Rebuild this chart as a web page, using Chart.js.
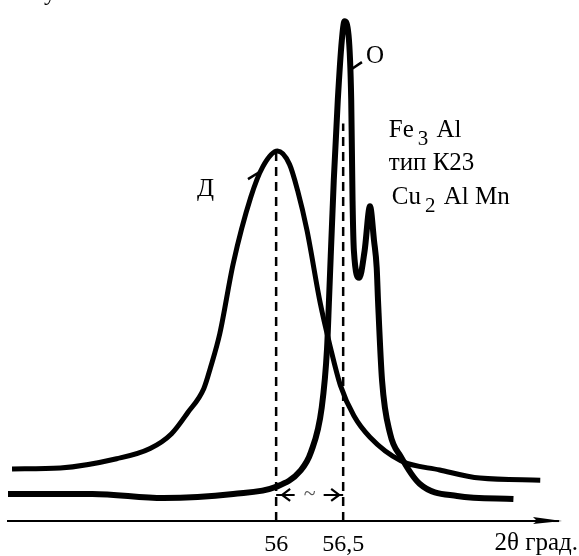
<!DOCTYPE html>
<html>
<head>
<meta charset="utf-8">
<script src="https://cdn.jsdelivr.net/npm/chart.js@4/dist/chart.umd.min.js"></script>
<style>
html,body{margin:0;padding:0;background:#fff;}
#wrap{width:579px;height:556px;}
</style>
</head>
<body>
<div id="wrap"><canvas id="c" width="579" height="556"></canvas></div>
<script>
// ---- data ----
const curveD_x = [54.03,54.39,54.81,55.06,55.22,55.34,55.46,55.51,55.58,55.68,55.81,55.90,56.01,56.10,56.16,56.23,56.33,56.40,56.48,56.58,56.70,56.93,57.22,57.52,57.97];
const curveD_y = [10.2,10.4,12.2,14.2,17.1,21.2,25.9,30.0,36.7,50.4,63.3,69.3,72.4,69.8,64.7,56.9,42.5,34.5,26.5,20.6,16.4,11.8,10.0,8.4,8.0];
const curveO_x = [54.00,54.63,55.16,55.68,56.00,56.18,56.26,56.34,56.38,56.395,56.43,56.46,56.49,56.51,56.54,56.56,56.57,56.58,56.62,56.66,56.70,56.73,56.75,56.76,56.79,56.85,56.93,57.07,57.35,57.77];
const curveO_y = [5.3,5.3,4.5,5.3,6.7,9.8,13.5,22.2,33.9,43.7,66.7,82.4,94.1,97.8,95.1,82.4,62.7,52.9,47.6,52.9,61.6,54.9,49.6,43.1,27.5,17.1,12.6,7.3,4.9,4.3];
const markerX = [56, 56.5];          // dashed guide positions
const markerTop = [72.4, 77.8];      // dashed guide heights
const gapY = 5.1;                     // level of the double arrow
const xTickValues = [56, 56.5];
const xTickLabels = ['56', '56,5'];
const axisTitle = '2θ град.';
const curveLabels = ['Д', 'О'];
const phaseLines = [['Fe', '3', ' Al'], ['тип К23'], ['Cu', '2', ' Al Mn']];

const pts = (xs, ys) => xs.map((x, i) => ({x, y: ys[i]}));
const SERIF = '"Liberation Serif", "Times New Roman", serif';

const annot = {
  id: 'annot',
  afterDraw(chart) {
    const ctx = chart.ctx;
    const xs = chart.scales.x, ys = chart.scales.y;
    const X = v => xs.getPixelForValue(v), Y = v => ys.getPixelForValue(v);
    const ca = chart.chartArea;
    ctx.save();
    ctx.strokeStyle = '#000'; ctx.fillStyle = '#000';
    // axis arrow
    ctx.lineWidth = 2;
    ctx.beginPath(); ctx.moveTo(ca.right - 2, ca.bottom); ctx.lineTo(ca.right + 4, ca.bottom); ctx.stroke();
    ctx.beginPath();
    ctx.moveTo(ca.right + 7, ca.bottom);
    ctx.lineTo(ca.right - 22, ca.bottom - 4);
    ctx.lineTo(ca.right - 18, ca.bottom);
    ctx.lineTo(ca.right - 22, ca.bottom + 3);
    ctx.closePath(); ctx.fill();
    // axis title
    ctx.font = '25px ' + SERIF;
    ctx.textBaseline = 'alphabetic';
    ctx.textAlign = 'right';
    ctx.fillText(axisTitle, 578, 550);
    // double arrow heads with tilde gap
    const gy = Y(gapY), ax1 = X(markerX[0]) + 6, ax2 = X(markerX[1]) - 4;
    const mid = (ax1 + ax2) / 2 - 1;
    ctx.fillStyle = '#fff';
    ctx.fillRect(mid - 15, gy - 5, 29, 10);
    ctx.fillStyle = '#000';
    ctx.lineWidth = 2.2;
    ctx.beginPath();
    ctx.moveTo(ax1 + 8, gy - 6); ctx.lineTo(ax1, gy); ctx.lineTo(ax1 + 8, gy + 6);
    ctx.moveTo(ax2 - 8, gy - 6); ctx.lineTo(ax2, gy); ctx.lineTo(ax2 - 8, gy + 6);
    ctx.stroke();
    ctx.fillStyle = '#555';
    ctx.font = '22px ' + SERIF;
    ctx.textAlign = 'center'; ctx.textBaseline = 'middle';
    ctx.fillText('~', mid, gy - 1);
    ctx.fillStyle = '#000';
    // curve labels with leaders
    ctx.font = '25px ' + SERIF;
    ctx.textAlign = 'left'; ctx.textBaseline = 'alphabetic';
    ctx.fillText(curveLabels[0], X(55.41), Y(63.7));
    ctx.fillText(curveLabels[1], X(56.67), Y(89.6));
    ctx.lineWidth = 2.5;
    ctx.beginPath();
    ctx.moveTo(X(55.79), Y(66.9)); ctx.lineTo(X(55.87), Y(68.2));
    ctx.moveTo(X(56.55), Y(88.2)); ctx.lineTo(X(56.64), Y(89.8));
    ctx.stroke();
    // phase text block
    const bx = X(56.84);
    const bases = [Y(75.1), Y(68.6), Y(62.1)];
    phaseLines.forEach((parts, i) => {
      let x = bx + (i === 2 ? 3 : 0);
      parts.forEach((p, j) => {
        const sub = parts.length === 3 && j === 1;
        ctx.font = (sub ? '21px ' : '25px ') + SERIF;
        if (sub) x += 4;
        ctx.fillText(p, x, bases[i] + (sub ? 8 : 0));
        x += ctx.measureText(p).width + (sub ? 2 : 0);
      });
    });
    // clipped letter at the very top left
    ctx.font = '24px ' + SERIF;
    ctx.fillText('у', 44, 0);
    ctx.restore();
  }
};

new Chart(document.getElementById('c'), {
  type: 'line',
  data: {
    datasets: [
      {data: pts(curveD_x, curveD_y), borderColor: '#000', borderWidth: 5, pointRadius: 0, cubicInterpolationMode: 'monotone', fill: false},
      {data: pts(curveO_x, curveO_y), borderColor: '#000', borderWidth: 6, pointRadius: 0, cubicInterpolationMode: 'monotone', fill: false},
      {data: [{x: markerX[0], y: 0}, {x: markerX[0], y: markerTop[0]}], borderColor: '#000', borderWidth: 2.5, borderDash: [9, 6], pointRadius: 0, tension: 0},
      {data: [{x: markerX[1], y: 0}, {x: markerX[1], y: markerTop[1]}], borderColor: '#000', borderWidth: 2.5, borderDash: [9, 6], pointRadius: 0, tension: 0},
      {data: [{x: markerX[0], y: gapY}, {x: markerX[1], y: gapY}], borderColor: '#000', borderWidth: 2.2, pointRadius: 0, tension: 0}
    ]
  },
  options: {
    responsive: false,
    devicePixelRatio: 1,
    animation: false,
    layout: {padding: {left: 8, right: 24, top: 10, bottom: -12}},
    plugins: {legend: {display: false}, tooltip: {enabled: false}},
    scales: {
      x: {
        type: 'linear', min: 54, max: 58.08,
        afterBuildTicks: s => { s.ticks = xTickValues.map(v => ({value: v})); },
        grid: {display: false, drawTicks: false},
        border: {display: true, color: '#000', width: 2},
        ticks: {
          color: '#000', padding: 11, maxRotation: 0, autoSkip: false,
          font: {family: SERIF, size: 24, lineHeight: 1.04},
          callback: (v) => { const i = xTickValues.indexOf(v); return i >= 0 ? xTickLabels[i] : ''; }
        }
      },
      y: {type: 'linear', min: 0, max: 100, display: false}
    }
  },
  plugins: [annot]
});
</script>
</body>
</html>
